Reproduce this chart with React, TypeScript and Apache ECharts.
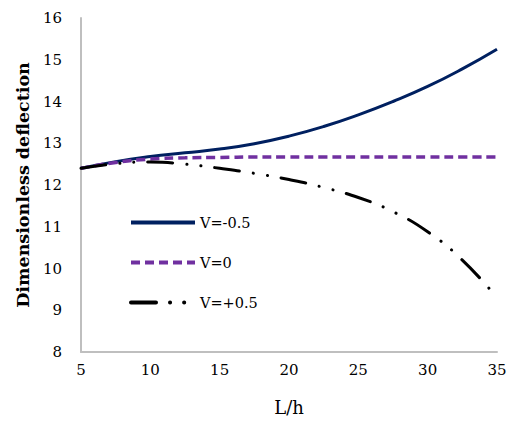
import React, { useEffect, useRef } from "react";
import * as echarts from "echarts";

const lh = [5, 7.5, 10, 12.5, 15, 17.5, 20, 22.5, 25, 27.5, 30, 32.5, 35];
const vNeg = [12.4, 12.56, 12.68, 12.77, 12.86, 12.99, 13.17, 13.4, 13.68, 14.0, 14.36, 14.78, 15.25];
const vZero = [12.4, 12.54, 12.62, 12.65, 12.66, 12.67, 12.67, 12.67, 12.67, 12.67, 12.67, 12.67, 12.67];
const vPos = [12.4, 12.51, 12.55, 12.5, 12.4, 12.28, 12.13, 11.94, 11.7, 11.36, 10.88, 10.2, 9.3];
const seriesNames = ["V=-0.5", "V=0", "V=+0.5"];

const serif = "DejaVu Serif";

export default function App() {
  const ref = useRef<HTMLDivElement>(null);
  useEffect(() => {
    if (!ref.current) return;
    const chart = echarts.init(ref.current, null, { renderer: "svg" });
    const pairs = (ys: number[]) => lh.map((x, i) => [x, ys[i]]);
    chart.setOption({
      animation: false,
      textStyle: { fontFamily: serif },
      grid: { left: 81, right: 15, top: 18, bottom: 69 },
      legend: {
        orient: "vertical",
        left: 124,
        top: 210,
        itemWidth: 64,
        itemHeight: 14,
        itemGap: 25,
        itemStyle: { opacity: 0 },
        lineStyle: { width: 4 },
        textStyle: { fontFamily: serif, fontSize: 14.5, color: "#000" },
        data: seriesNames,
      },
      xAxis: {
        type: "value",
        min: 5,
        max: 35,
        interval: 5,
        name: "L/h",
        nameLocation: "middle",
        nameGap: 46,
        nameTextStyle: { fontFamily: serif, fontSize: 18, color: "#000" },
        axisLine: { lineStyle: { color: "#BFBFBF", width: 2 } },
        axisTick: { show: false },
        splitLine: { show: false },
        axisLabel: { fontFamily: serif, fontSize: 15, color: "#000", margin: 10 },
      },
      yAxis: {
        type: "value",
        min: 8,
        max: 16,
        interval: 1,
        name: "Dimensionless deflection",
        nameLocation: "middle",
        nameGap: 40,
        nameTextStyle: { fontFamily: serif, fontSize: 17.5, fontWeight: "bold", color: "#000" },
        axisLine: { show: true, lineStyle: { color: "#BFBFBF", width: 2 } },
        axisTick: { show: false },
        splitLine: { show: false },
        axisLabel: { fontFamily: serif, fontSize: 15, color: "#000", margin: 19 },
      },
      series: [
        {
          name: seriesNames[0],
          type: "line",
          smooth: true,
          showSymbol: false,
          symbol: "none",
          data: pairs(vNeg),
          lineStyle: { color: "#002060", width: 3 },
          itemStyle: { color: "#002060" },
        },
        {
          name: seriesNames[1],
          type: "line",
          smooth: true,
          showSymbol: false,
          symbol: "none",
          data: pairs(vZero),
          lineStyle: { color: "#7030A0", width: 3.5, type: [9, 5] },
          itemStyle: { color: "#7030A0" },
        },
        {
          name: seriesNames[2],
          type: "line",
          smooth: true,
          showSymbol: false,
          symbol: "none",
          data: pairs(vPos),
          lineStyle: { color: "#000", width: 3, cap: "round", type: [25, 14, 0.1, 14, 0.1, 14] },
          itemStyle: { color: "#000" },
        },
      ],
    });
    return () => chart.dispose();
  }, []);
  return <div ref={ref} style={{ width: 512, height: 421, position: "absolute", left: 0, top: 0 }} />;
}
